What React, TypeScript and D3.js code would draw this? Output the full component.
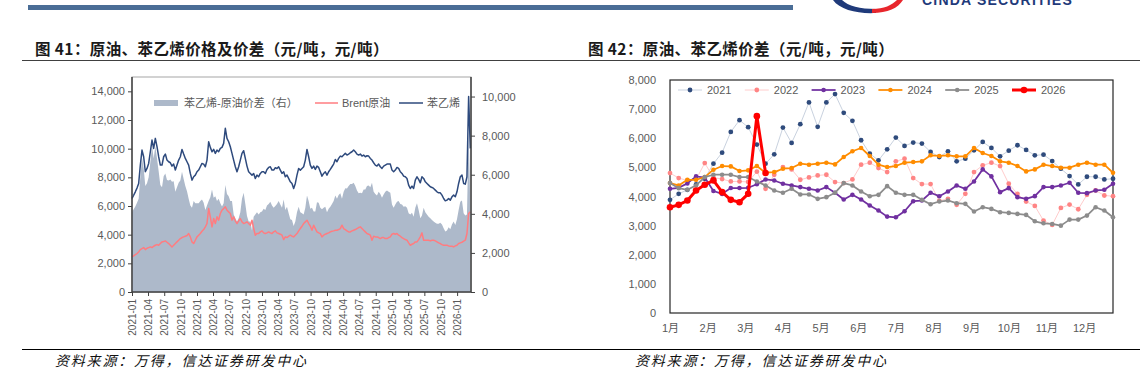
import { useEffect, useRef } from 'react';
import * as d3 from 'd3';

const FONT = '"Liberation Sans", Arial, "Noto Sans CJK SC", sans-serif';
const CJK = '"Noto Sans CJK SC", sans-serif';

// ---------- 图41: samples roughly every 9.4 days from 2021-01-01 ----------
const sampleStart = new Date(2021, 0, 1);
const sampleStepDays = 9.36;

// 苯乙烯 (left axis, 元/吨)
const styrene = [
  6524, 6750, 6990, 7250, 7572, 8854, 9900, 9436, 8388, 8621,
  8970, 9786, 10600, 10019, 10718, 10136, 9437, 8854, 8854, 9437,
  9623, 9204, 9087, 9017, 8784, 8924, 8505, 8854, 9204, 9437,
  9949, 9623, 9320, 9087, 8854, 8272, 7806, 8039, 8155, 8388,
  8505, 8738, 8970, 8924, 8738, 9204, 10485, 10089, 9786, 9949,
  9670, 9903, 9786, 10019, 10089, 10369, 11417, 10718, 10485, 10136,
  9670, 9204, 8738, 8388, 8738, 9204, 9670, 9856, 9320, 8784,
  8388, 8272, 8155, 8272, 7922, 8155, 8039, 8272, 8388, 8388,
  8272, 8551, 8691, 8738, 8505, 8505, 8668, 8621, 8738, 8505,
  8272, 8388, 8039, 8155, 7922, 7689, 7572, 7223, 7572, 8155,
  8621,
  8505, 8620, 8738, 9204, 9949, 9437, 8854, 8621, 8784, 8551,
  8784, 8691, 8388, 8085, 8272, 8388, 8155, 8388, 8551, 8738,
  8924, 9250, 9087, 9320, 9483, 9437, 9553, 9670, 9553, 9623,
  9716, 9786, 9903, 9786, 9623, 9553, 9623, 9483, 9553, 9437,
  9506, 9483, 9320, 9204, 9017, 8854, 8784, 8924, 8738, 8621,
  8784, 8854, 8924, 8924, 8924, 8505, 8388, 8505, 8691, 8621,
  8388, 8272, 8085, 8039, 7922, 7456, 7223, 7386, 7223, 7806,
  8039, 7852, 7619, 8039, 7922, 7689, 7572, 7456, 7340, 7293,
  7223, 7107, 6990, 6920, 6920, 6757, 6524, 6361, 6408, 6524,
  6408, 6641, 6757, 6641, 6990, 7572, 8039, 8155, 7572, 7526,
  8039, 13631, 10019,
];

// Brent原油 (left axis, 元/吨)
const brent = [
  2447, 2516, 2610, 2680, 2796, 2959, 3029, 3099, 2959, 3052,
  3099, 3146, 3099, 3192, 3262, 3309, 3262, 3379, 3495, 3518,
  3565, 3472, 3379, 3262, 3146, 3262, 3379, 3495, 3612, 3728,
  3798, 3845, 3891, 3938, 4078, 3845, 3495, 3379, 3612, 3845,
  3961, 4078, 4241, 4357, 4544, 4777, 5825, 5243, 4544, 5126,
  4777, 5243, 5010, 5476, 5709, 5825, 5942, 5709, 5592, 5476,
  5010, 5243, 4963, 4777, 4963, 5126, 4893, 4777, 4824, 4893,
  4777, 4660, 5010, 4427, 3961, 4078, 4078, 4194, 4264, 4124,
  4078, 4124, 4194, 4124, 4078, 4194, 4264, 4124, 4078, 4031,
  3961, 3658, 3845, 3798, 3891, 3961, 3891, 3845, 3961, 4078,
  4264,
  4427, 4590, 4777, 4893, 5010, 4777, 4590, 4311, 4660, 4427,
  4194, 4124, 4078, 3845, 3961, 4031, 4078, 4124, 4194, 4241,
  4264, 4311, 4311, 4357, 4427, 4660, 4427, 4357, 4264, 4194,
  4194, 4264, 4311, 4357, 4427, 4497, 4544, 4427, 4311, 4194,
  4078, 4031, 3961, 3612, 3891, 3845, 3845, 3798, 3728, 3798,
  3798, 3728, 3728, 3798, 3845, 4031, 4078, 4031, 4078, 3961,
  3891, 3798, 3728, 3658, 3612, 3425, 3262, 3332, 3379, 3495,
  3495, 3658, 3845, 4124, 3612, 3612, 3612, 3612, 3565, 3612,
  3612, 3565, 3495, 3425, 3379, 3309, 3262, 3262, 3262, 3215,
  3192, 3192, 3146, 3215, 3262, 3379, 3425, 3472, 3542, 3612,
  4078, 5476, 5592,
];

// 苯乙烯-原油价差 (right axis, 元/吨)
const spread = [
  4077, 4234, 4380, 4570, 4776, 5895, 6871, 6337, 5429, 5569,
  5871, 6640, 7501, 6827, 7456, 6827, 6175, 5475, 5359, 5919,
  6058, 5732, 5708, 5755, 5638, 5662, 5126, 5359, 5592, 5709,
  6151, 5778, 5429, 5149, 4776, 4427, 4311, 4660, 4543, 4543,
  4544, 4660, 4729, 4567, 4194, 4427, 4660, 4846, 5242, 4823,
  4893, 4660, 4776, 4543, 4380, 4544, 5475, 5009, 4893, 4660,
  4660, 3961, 3775, 3611, 3775, 4078, 4777, 5079, 4496, 3891,
  3611, 3612, 3145, 3845, 3961, 4077, 3961, 4078, 4124, 4264,
  4194, 4427, 4497, 4614, 4427, 4311, 4404, 4497, 4660, 4474,
  4311, 4730, 4194, 4357, 4031, 3728, 3681, 3378, 3611, 4077,
  4357,
  4078, 4030, 3961, 4311, 4939, 4660, 4264, 4310, 4124, 4124,
  4590, 4567, 4310, 4240, 4311, 4357, 4077, 4264, 4357, 4497,
  4660, 4939, 4776, 4963, 5056, 4777, 5126, 5313, 5289, 5429,
  5522, 5522, 5592, 5429, 5196, 5056, 5079, 5056, 5242, 5243,
  5428, 5452, 5359, 5592, 5126, 5009, 4939, 5126, 5010, 4823,
  4986, 5126, 5196, 5126, 5079, 4474, 4310, 4474, 4613, 4660,
  4497, 4474, 4357, 4381, 4310, 4031, 3961, 4054, 3844, 4311,
  4544, 4194, 3774, 3915, 4310, 4077, 3960, 3844, 3775, 3681,
  3611, 3542, 3495, 3495, 3541, 3448, 3262, 3099, 3146, 3309,
  3216, 3449, 3611, 3426, 3728, 4193, 4614, 4683, 4030, 3914,
  3961, 8155, 4427,
];

const leftAxisTicks = [0, 2000, 4000, 6000, 8000, 10000, 12000, 14000];
const rightAxisTicks = [0, 2000, 4000, 6000, 8000, 10000];
const quarterLabels = [
  '2021-01', '2021-04', '2021-07', '2021-10', '2022-01', '2022-04', '2022-07',
  '2022-10', '2023-01', '2023-04', '2023-07', '2023-10', '2024-01', '2024-04',
  '2024-07', '2024-10', '2025-01', '2025-04', '2025-07', '2025-10', '2026-01',
];

// ---------- 图42: weekly spread by year ----------
const monthLabels = ['1月', '2月', '3月', '4月', '5月', '6月', '7月', '8月', '9月', '10月', '11月', '12月'];
const weeklyTicks = [0, 1000, 2000, 3000, 4000, 5000, 6000, 7000, 8000];
const years = ['2021', '2022', '2023', '2024', '2025', '2026'];

const spread2021 = [
  3885, 4092, 4230, 4414, 4609, 5126, 5506, 6218, 6621, 6379,
  5782, 5126, 5448, 6368, 5839, 6483, 7230, 6391, 7230, 7517,
  6874, 6598, 5931, 5471, 5241, 5621, 6023, 5736, 5851, 5816,
  5529, 5356, 5552, 5207, 5299, 5586, 5874, 5667, 5379, 5575,
  5759, 5598, 5414, 5437, 5218, 4954, 4701, 4414, 4678, 4678,
  4586, 4609,
];
const spread2022 = [
  4805, 4632, 4552, 4580, 5149, 4650, 4598, 4517, 4517, 4500,
  4851, 4264, 4747, 5011, 4931, 4575, 4655, 4724, 4747, 4494,
  4460, 4586, 5092, 5161, 4977, 4839, 5207, 5299, 4632, 4425,
  4425, 3850, 3920, 3713, 4092, 4839, 5069, 5161, 5046, 4437,
  4092, 3825, 3677, 3172, 3024, 3608, 3722, 3563, 4058, 4207,
  4034, 4012,
];
const spread2023 = [
  4264, 4300, 4450, 4690, 4650, 4190, 4090, 4290, 4290, 4300,
  4420, 4586, 4550, 4437, 4380, 4322, 4264, 4207, 4322, 4127,
  3897, 4057, 3897, 3690, 3517, 3310, 3287, 3494, 3839, 3862,
  4127, 4011, 4172, 4379, 4264, 4517, 4931, 4690, 4150, 4287,
  3977, 3920, 4012, 4322, 4322, 4379, 4471, 4127, 4115, 4207,
  4230, 4437,
];
const spread2024 = [
  4460, 4379, 4575, 4575, 4667, 4920, 5046, 5034, 4874, 4897,
  5046, 4816, 4839, 4954, 4977, 5126, 5092, 5126, 5161, 5103,
  5356, 5552, 5667, 5391, 5092, 5011, 5046, 5161, 5184, 5207,
  5414, 5391, 5414, 5379, 5379, 5667, 5494, 5391, 5207, 5161,
  5046, 4862, 4931, 5092, 5046, 4989, 4989, 5092, 5161, 5092,
  5092, 4816,
];
const spread2025 = [
  4460, 4287, 4230, 4379, 4667, 4747, 4747, 4747, 4667, 4667,
  4517, 4379, 4207, 4127, 4264, 4069, 4069, 3920, 3977, 4127,
  4460, 4379, 4172, 4011, 4057, 4356, 4127, 4057, 4057, 3885,
  3736, 3828, 3862, 3770, 3747, 3483, 3632, 3575, 3460, 3437,
  3402, 3368, 3149, 3080, 3057, 3000, 3207, 3207, 3345, 3632,
  3517, 3287,
];
const spread2026 = [3632, 3713, 3862, 4207, 4402, 4552, 4149, 3885, 3805, 4092, 6759, 4805];

export default function App() {
  const svgRef = useRef<SVGSVGElement>(null);

  useEffect(() => {
    if (!svgRef.current) return;
    const svg = d3.select(svgRef.current);
    svg.selectAll('*').remove();

    // ---- page header / footer ----
    svg.append('rect').attr('x', 28).attr('y', 5).attr('width', 765).attr('height', 5).attr('fill', '#4a6d96');
    svg.append('path')
      .attr('d', 'M833,0 C840,10 858,14 876,13 L876,9 C860,9 848,6 842,0 Z')
      .attr('fill', '#1f3a7a');
    svg.append('path')
      .attr('d', 'M872,13 C888,13 898,8 903,0 L897,0 C892,5 884,9 872,9 Z')
      .attr('fill', '#e8262c');
    // logo wordmark, cut off by the top edge as in the page scan
    svg.append('text')
      .attr('x', 922).attr('y', 5)
      .attr('font-family', FONT).attr('font-size', 14).attr('font-weight', 'bold')
      .attr('letter-spacing', 1.2).attr('fill', '#1f3a7a')
      .text('CINDA SECURITIES');

    const titles = [
      { x: 35, text: '图 41：原油、苯乙烯价格及价差（元/吨，元/吨）' },
      { x: 588, text: '图 42：原油、苯乙烯价差（元/吨，元/吨）' },
    ];
    titles.forEach((t) => {
      svg.append('text')
        .attr('x', t.x).attr('y', 55)
        .attr('font-family', CJK).attr('font-size', 15.5).attr('font-weight', 'bold')
        .attr('letter-spacing', 0.4)
        .attr('fill', '#1a1a1a')
        .text(t.text);
    });
    svg.append('line').attr('x1', 22).attr('x2', 1140).attr('y1', 60.5).attr('y2', 60.5)
      .attr('stroke', '#404040').attr('stroke-width', 1.2);
    svg.append('line').attr('x1', 22).attr('x2', 1140).attr('y1', 349.5).attr('y2', 349.5)
      .attr('stroke', '#000').attr('stroke-width', 1);
    [55, 635].forEach((x) => {
      svg.append('text')
        .attr('x', x).attr('y', 366)
        .attr('font-family', CJK).attr('font-size', 14).attr('font-style', 'italic')
        .attr('letter-spacing', 1.8).attr('fill', '#111')
        .text('资料来源：万得，信达证券研发中心');
    });

    // ---- 图41 ----
    const L = { left: 132, right: 471, top: 77, bottom: 292 };
    const dates = styrene.map((_, i) => d3.timeHour.offset(sampleStart, Math.round(i * sampleStepDays * 24)));
    const parseMonth = d3.timeParse('%Y-%m');
    const x1 = d3.scaleTime().domain([sampleStart, new Date(2026, 2, 20)]).range([L.left, L.right]);
    const yL = d3.scaleLinear().domain([0, 15000]).range([L.bottom, L.top]);
    const yR = d3.scaleLinear().domain([0, 11000]).range([L.bottom, L.top]);

    const g1 = svg.append('g');
    g1.append('rect')
      .attr('x', L.left).attr('y', L.top)
      .attr('width', L.right - L.left).attr('height', L.bottom - L.top)
      .attr('fill', 'none').attr('stroke', '#a6a6a6').attr('stroke-width', 1);

    const area = d3.area<number>()
      .x((_, i) => x1(dates[i]))
      .y0(L.bottom)
      .y1((d) => yR(d));
    g1.append('path').datum(spread).attr('fill', '#adb9ca').attr('d', area);

    const lineL = d3.line<number>()
      .x((_, i) => x1(dates[i]))
      .y((d) => yL(d));
    g1.append('path').datum(brent)
      .attr('fill', 'none').attr('stroke', '#ff7c80').attr('stroke-width', 1.5)
      .attr('stroke-linejoin', 'round').attr('d', lineL);
    g1.append('path').datum(styrene)
      .attr('fill', 'none').attr('stroke', '#2e4a7d').attr('stroke-width', 1.5)
      .attr('stroke-linejoin', 'round').attr('d', lineL);

    const styleAxis = (ax: d3.Selection<SVGGElement, unknown, null, undefined>, size: number) => {
      ax.select('.domain').remove();
      ax.selectAll('line').attr('stroke', '#404040');
      ax.selectAll('text').attr('fill', '#595959').attr('font-family', FONT).attr('font-size', size);
    };

    const axL = g1.append('g').attr('transform', `translate(${L.left},0)`)
      .call(d3.axisLeft(yL).tickValues(leftAxisTicks).tickSize(4).tickPadding(3).tickFormat(d3.format(',')));
    styleAxis(axL, 11);
    const axR = g1.append('g').attr('transform', `translate(${L.right},0)`)
      .call(d3.axisRight(yR).tickValues(rightAxisTicks).tickSize(4).tickPadding(7).tickFormat(d3.format(',')));
    styleAxis(axR, 11);
    const axB = g1.append('g').attr('transform', `translate(0,${L.bottom})`)
      .call(d3.axisBottom(x1)
        .tickValues(quarterLabels.map((s) => parseMonth(s) as Date))
        .tickSize(4)
        .tickFormat((d) => d3.timeFormat('%Y-%m')(d as Date)));
    styleAxis(axB, 10);
    axB.selectAll('text')
      .attr('transform', 'rotate(-90)')
      .attr('text-anchor', 'end')
      .attr('x', -7).attr('y', 0).attr('dy', '0.35em');

    [[L.left, L.top, L.left, L.bottom], [L.right, L.top, L.right, L.bottom], [L.left, L.bottom, L.right, L.bottom]]
      .forEach(([xa, ya, xb, yb]) => {
        g1.append('line').attr('x1', xa).attr('y1', ya).attr('x2', xb).attr('y2', yb)
          .attr('stroke', '#404040').attr('stroke-width', 1.5);
      });

    // legend
    g1.append('rect').attr('x', 154).attr('y', 100).attr('width', 24).attr('height', 6).attr('fill', '#adb9ca');
    g1.append('line').attr('x1', 315).attr('x2', 338).attr('y1', 103).attr('y2', 103)
      .attr('stroke', '#ff7c80').attr('stroke-width', 1.5);
    g1.append('line').attr('x1', 399).attr('x2', 423).attr('y1', 103).attr('y2', 103)
      .attr('stroke', '#2e4a7d').attr('stroke-width', 1.5);
    [
      { x: 184, t: '苯乙烯-原油价差（右）' },
      { x: 342, t: 'Brent原油' },
      { x: 427, t: '苯乙烯' },
    ].forEach((l) => {
      g1.append('text').attr('x', l.x).attr('y', 107)
        .attr('font-family', FONT).attr('font-size', 11).attr('fill', '#595959').text(l.t);
    });

    // ---- 图42 ----
    const R = { left: 670, right: 1113, top: 80, bottom: 313 };
    const x2 = d3.scaleLinear().domain([0, 51]).range([R.left, R.right]);
    const y2 = d3.scaleLinear().domain([0, 8000]).range([R.bottom, R.top]);
    const g2 = svg.append('g');

    const ax2L = g2.append('g').attr('transform', `translate(${R.left},0)`)
      .call(d3.axisLeft(y2).tickValues(weeklyTicks).tickSize(0).tickPadding(14).tickFormat(d3.format(',')));
    styleAxis(ax2L, 11);
    const ax2B = g2.append('g').attr('transform', `translate(0,${R.bottom})`)
      .call(d3.axisBottom(x2)
        .tickValues(monthLabels.map((_, i) => (i * 52) / 12))
        .tickSize(0).tickPadding(11)
        .tickFormat((_, i) => monthLabels[i]));
    styleAxis(ax2B, 11);

    g2.append('rect')
      .attr('x', R.left).attr('y', R.top)
      .attr('width', R.right - R.left).attr('height', R.bottom - R.top)
      .attr('fill', 'none').attr('stroke', '#262626').attr('stroke-width', 1.2);

    const yearSeries = [spread2021, spread2022, spread2023, spread2024, spread2025, spread2026];
    const lineColors = ['#c9d2df', '#ffcccc', '#7030a0', '#ff8c00', '#8c8c8c', '#ff0000'];
    const dotColors = ['#2f4b7c', '#ff8585', '#7030a0', '#ff8c00', '#8c8c8c', '#ff0000'];
    const lineWidths = [1, 1, 1.75, 1.75, 1.75, 3];
    const dotRadius = [2.4, 2.4, 2.3, 2.3, 2.3, 3.3];

    const line2 = d3.line<number>().x((_, i) => x2(i)).y((d) => y2(d));
    yearSeries.forEach((vals, k) => {
      g2.append('path').datum(vals)
        .attr('fill', 'none').attr('stroke', lineColors[k]).attr('stroke-width', lineWidths[k])
        .attr('stroke-linejoin', 'round').attr('d', line2);
      g2.selectAll(`.dot${k}`).data(vals).enter().append('circle')
        .attr('class', `dot${k}`)
        .attr('cx', (_, i) => x2(i)).attr('cy', (d) => y2(d))
        .attr('r', dotRadius[k]).attr('fill', dotColors[k]);
    });

    years.forEach((yr, k) => {
      const lx = 678 + k * 66.8;
      g2.append('line').attr('x1', lx).attr('x2', lx + 24).attr('y1', 90).attr('y2', 90)
        .attr('stroke', lineColors[k]).attr('stroke-width', lineWidths[k]);
      g2.append('circle').attr('cx', lx + 12).attr('cy', 90).attr('r', dotRadius[k]).attr('fill', dotColors[k]);
      g2.append('text').attr('x', lx + 29).attr('y', 94)
        .attr('font-family', FONT).attr('font-size', 11).attr('fill', '#595959').text(yr);
    });
  }, []);

  return (
    <svg
      ref={svgRef}
      width={1145}
      height={373}
      style={{ position: 'absolute', left: 0, top: 0, background: '#fff' }}
    />
  );
}
